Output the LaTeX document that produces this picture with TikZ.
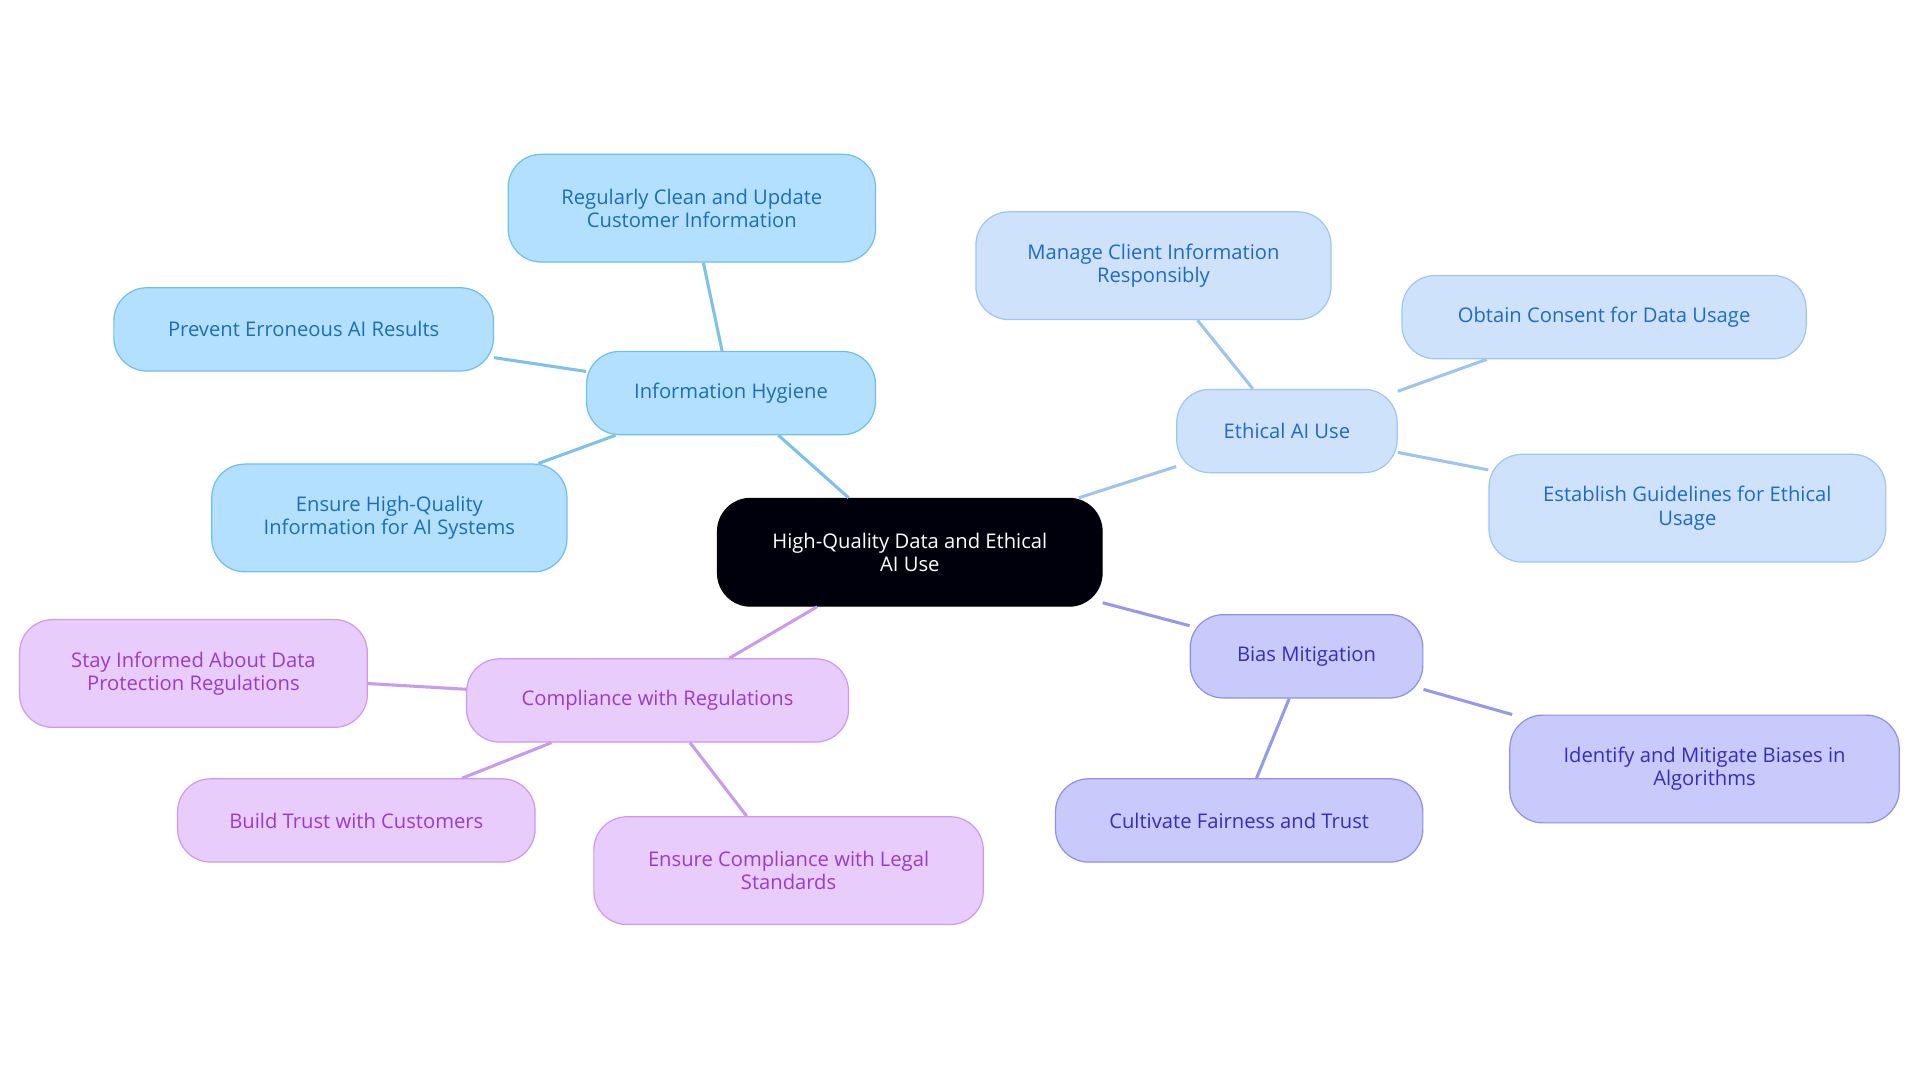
\documentclass[tikz,border=0pt]{standalone}
\usepackage{fontspec}
\setmainfont{Open Sans}
\begin{document}
\begin{tikzpicture}[x=1pt,y=-1pt,
 every node/.style={font=\fontsize{16.5}{19}\selectfont, align=center, rounded corners=27pt, draw, line width=1pt, inner sep=0pt},
 hub/.style={fill=black!95!blue, draw=black, text=white},
 bl/.style={fill=cyan!30!white!90!blue, draw=cyan!60!blue!70, text=blue!70!cyan!80!black, fill={rgb,255:red,180;green,224;blue,255}, draw={rgb,255:red,112;green,190;blue,240}, text={rgb,255:red,26;green,110;blue,185}},
 lb/.style={fill={rgb,255:red,206;green,227;blue,251}, draw={rgb,255:red,158;green,198;blue,240}, text={rgb,255:red,31;green,105;blue,205}},
 pb/.style={fill={rgb,255:red,201;green,202;blue,252}, draw={rgb,255:red,143;green,143;blue,239}, text={rgb,255:red,50;green,46;blue,195}},
 pu/.style={fill={rgb,255:red,232;green,204;blue,252}, draw={rgb,255:red,206;green,154;blue,240}, text={rgb,255:red,154;green,59;blue,208}},
 e/.style={line width=2.5pt},
]
\useasboundingbox (0,0) rectangle (1568,884);
\node[hub,minimum width=314,minimum height=88] (c) at (743,451) {High-Quality Data and Ethical\\AI Use};
\node[bl,minimum width=236,minimum height=68] (ih) at (597,321) {Information Hygiene};
\node[bl,minimum width=300,minimum height=88] (ih1) at (565,170) {Regularly Clean and Update\\Customer Information};
\node[bl,minimum width=310,minimum height=68] (ih2) at (248,269) {Prevent Erroneous AI Results};
\node[bl,minimum width=290,minimum height=88] (ih3) at (318,423) {Ensure High-Quality\\Information for AI Systems};
\node[lb,minimum width=180,minimum height=68] (ea) at (1051,352) {Ethical AI Use};
\node[lb,minimum width=290,minimum height=88] (ea1) at (942,217) {Manage Client Information\\Responsibly};
\node[lb,minimum width=330,minimum height=68] (ea2) at (1310,259) {Obtain Consent for Data Usage};
\node[lb,minimum width=324,minimum height=88] (ea3) at (1378,415) {Establish Guidelines for Ethical\\Usage};
\node[pb,minimum width=190,minimum height=68] (bm) at (1067,536) {Bias Mitigation};
\node[pb,minimum width=318,minimum height=88] (bm1) at (1392,628) {Identify and Mitigate Biases in\\Algorithms};
\node[pb,minimum width=300,minimum height=68] (bm2) at (1012,670) {Cultivate Fairness and Trust};
\node[pu,minimum width=312,minimum height=68] (cr) at (537,572) {Compliance with Regulations};
\node[pu,minimum width=284,minimum height=88] (cr1) at (158,550) {Stay Informed About Data\\Protection Regulations};
\node[pu,minimum width=292,minimum height=68] (cr2) at (291,670) {Build Trust with Customers};
\node[pu,minimum width=318,minimum height=88] (cr3) at (644,711) {Ensure Compliance with Legal\\Standards};
\begin{scope}[e,draw={rgb,255:red,126;green,192;blue,238}]
\draw (c) -- (ih); \draw (ih) -- (ih1); \draw (ih) -- (ih2); \draw (ih) -- (ih3);
\end{scope}
\begin{scope}[e,draw={rgb,255:red,158;green,197;blue,240}]
\draw (c) -- (ea); \draw (ea) -- (ea1); \draw (ea) -- (ea2); \draw (ea) -- (ea3);
\end{scope}
\begin{scope}[e,draw={rgb,255:red,152;green,152;blue,238}]
\draw (c) -- (bm); \draw (bm) -- (bm1); \draw (bm) -- (bm2);
\end{scope}
\begin{scope}[e,draw={rgb,255:red,201;green,154;blue,240}]
\draw (c) -- (cr); \draw (cr) -- (cr1); \draw (cr) -- (cr2); \draw (cr) -- (cr3);
\end{scope}
\end{tikzpicture}
\end{document}
